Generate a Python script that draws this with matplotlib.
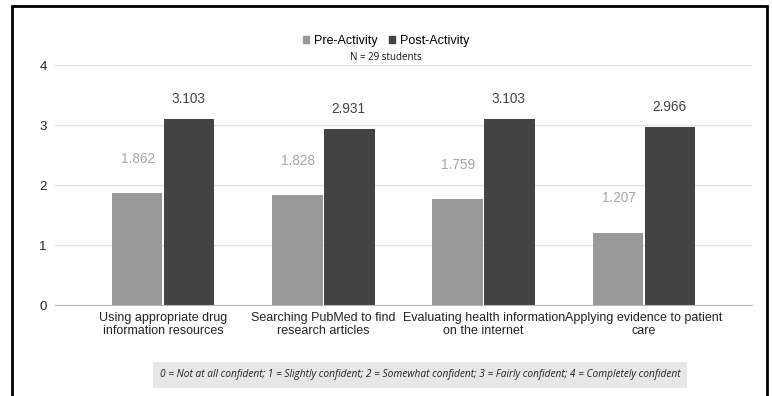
import matplotlib.pyplot as plt
import matplotlib.patches as mpatches
import numpy as np

categories = ["Using appropriate drug\ninformation resources",
              "Searching PubMed to find\nresearch articles",
              "Evaluating health information\non the internet",
              "Applying evidence to patient\ncare"]
pre_activity = [1.862, 1.828, 1.759, 1.207]
post_activity = [3.103, 2.931, 3.103, 2.966]
yticks = [0, 1, 2, 3, 4]

pre_color = "#999999"
post_color = "#434343"

plt.rcParams['font.family'] = ['Liberation Sans', 'DejaVu Sans']

fig = plt.figure(figsize=(7.72, 3.96), dpi=100)
ax = fig.add_axes([55/772, 1-305/396, 697/772, 240/396])

x = np.arange(len(categories))
w = 0.315
ax.bar(x - w/2 - 0.005, pre_activity, w, color=pre_color, zorder=3)
ax.bar(x + w/2 + 0.005, post_activity, w, color=post_color, zorder=3)

for i in range(len(categories)):
    ax.annotate(f"{pre_activity[i]:.3f}", (x[i] - w/2, pre_activity[i]),
                xytext=(0, 20), textcoords="offset points", ha="center",
                va="bottom", fontsize=9.8, color="#a6a6a6")
    ax.annotate(f"{post_activity[i]:.3f}", (x[i] + w/2, post_activity[i]),
                xytext=(0, 9.5), textcoords="offset points", ha="center",
                va="bottom", fontsize=9.8, color="#434343")

ax.set_xlim(-0.674, 3.674)
ax.set_ylim(0, 4)
ax.set_yticks(yticks)
ax.set_xticks(x)
ax.set_xticklabels(categories, fontsize=9, color="#222222", linespacing=1.1)
ax.tick_params(axis="y", length=0, pad=6, labelsize=9.5, labelcolor="#222222")
ax.tick_params(axis="x", length=0, pad=5)
ax.grid(axis="y", color="#e3e3e3", linewidth=1, zorder=0)
for s in ["top", "right", "left"]:
    ax.spines[s].set_visible(False)
ax.spines["bottom"].set_color("#b8b8b8")
ax.spines["bottom"].set_zorder(4)

handles = [mpatches.Patch(color=pre_color, label="Pre-Activity"),
           mpatches.Patch(color=post_color, label="Post-Activity")]
fig.legend(handles=handles, loc="center", bbox_to_anchor=(0.5, 1-41/396),
           ncol=2, frameon=False, fontsize=9, handlelength=0.5,
           handleheight=0.5, handletextpad=0.4, columnspacing=0.9)

fig.text(0.5, 1-57/396, "N = 29 students", ha="center", va="center",
         fontsize=7, family=["Open Sans", "DejaVu Sans"], color="#111111")

fig.text(420/772, 1-375/396,
         "0 = Not at all confident; 1 = Slightly confident; 2 = Somewhat confident; "
         "3 = Fairly confident; 4 = Completely confident",
         ha="center", va="center", fontsize=7.3, style="italic",
         family=["Open Sans", "DejaVu Sans"], color="#222222",
         bbox=dict(boxstyle="square,pad=0.7", facecolor="#e7e7e7",
                   edgecolor="none"))

fig.patches.append(mpatches.Rectangle((12/772, -0.05), 755/772, 1.05 - 6/396,
                                      transform=fig.transFigure, fill=False,
                                      edgecolor="black", linewidth=2))

fig.savefig("out.png", dpi=100)
